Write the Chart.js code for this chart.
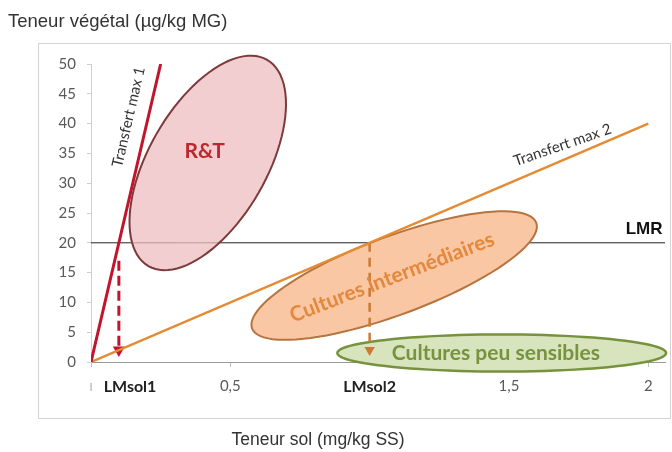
<!DOCTYPE html>
<html>
<head>
<meta charset="utf-8">
<script src="https://cdn.jsdelivr.net/npm/chart.js@4.4.0/dist/chart.umd.min.js"></script>
<style>
  html, body { margin: 0; padding: 0; background: #fff; }
  #wrap { width: 672px; height: 452px; position: relative; }
</style>
</head>
<body>
<div id="wrap"><canvas id="graphique"></canvas></div>
<script>
// axes
const xTicks = [0, 0.14, 0.5, 1, 1.5, 2];
const xTickLabels = ['ı', 'LMsol1', '0,5', 'LMsol2', '1,5', '2'];
const yTicks = [0, 5, 10, 15, 20, 25, 30, 35, 40, 45, 50];

// droites de transfert et LMR
const transfert1 = [{ x: 0, y: 0 }, { x: 0.25, y: 50 }];
const transfert2 = [{ x: 0, y: 0 }, { x: 2, y: 40 }];
const lmr = [{ x: 0, y: 20 }, { x: 2.06, y: 20 }];
const flecheLMsol1 = [{ x: 0.1, y: 17 }, { x: 0.1, y: 2 }];
const flecheLMsol2 = [{ x: 1, y: 20 }, { x: 1, y: 2 }];

// zones (ellipses) : centre et demi-axes, en unités des axes
const zoneNoms = ['R&T', 'Cultures intermédiaires', 'Cultures peu sensibles'];
const zoneCentres = [[0.419, 33.4], [1.088, 14.5], [1.474, 1.51]];
const zoneAxe1 = [[0.213, 17.3], [0.510, 8.86], [0.590, 0]];
const zoneAxe2 = [[0.183, -4.96], [0.0484, -6.15], [0, 3.11]];

const styleZones = [
  { fill: 'rgba(238,190,192,0.75)', stroke: '#7d3a3a', width: 2 },
  { fill: '#f9c7a4', stroke: '#b8743e', width: 2 },
  { fill: '#d8e4bd', stroke: '#76923c', width: 2.5 }
];

// textes posés dans le repère des données
const etiquettes = [
  { t: 'R&T', x: 0.408, y: 35.4, rot: 0, font: 'bold 21px Lato', color: '#c0262d' },
  { t: 'Cultures intermédiaires', x: 1.08, y: 14.2, rot: -21, font: 'bold 21px Lato', color: '#e3883c' },
  { t: 'Cultures peu sensibles', x: 1.453, y: 1.4, rot: 0, font: 'bold 21px Lato', color: '#77933c' },
  { t: 'Transfert max 1', x: 0.135, y: 41.1, rot: -77, font: '15px Lato', color: '#333' },
  { t: 'Transfert max 2', x: 1.692, y: 36.4, rot: -19, font: '15px Lato', color: '#333' },
  { t: 'LMR', x: 1.985, y: 22.3, rot: 0, font: 'bold 17px "Liberation Sans"', color: '#111' }
];

function dessineZones(chart) {
  const ctx = chart.ctx;
  const xs = chart.scales.x, ys = chart.scales.y;
  for (let i = 0; i < zoneNoms.length; i++) {
    const c = zoneCentres[i], a = zoneAxe1[i], b = zoneAxe2[i];
    ctx.save();
    ctx.beginPath();
    for (let k = 0; k <= 96; k++) {
      const t = k / 96 * Math.PI * 2;
      const px = xs.getPixelForValue(c[0] + a[0] * Math.cos(t) + b[0] * Math.sin(t));
      const py = ys.getPixelForValue(c[1] + a[1] * Math.cos(t) + b[1] * Math.sin(t));
      if (k === 0) ctx.moveTo(px, py); else ctx.lineTo(px, py);
    }
    ctx.closePath();
    ctx.fillStyle = styleZones[i].fill;
    ctx.fill();
    ctx.lineWidth = styleZones[i].width;
    ctx.strokeStyle = styleZones[i].stroke;
    ctx.stroke();
    ctx.restore();
  }
}

const decor = {
  id: 'decor',
  beforeDraw(chart) {
    const ctx = chart.ctx;
    ctx.save();
    ctx.strokeStyle = '#d4d4d4';
    ctx.lineWidth = 1;
    ctx.strokeRect(38.5, 43.5, 632, 375);
    ctx.fillStyle = '#333';
    ctx.textBaseline = 'middle';
    ctx.textAlign = 'left';
    ctx.font = '18.5px "Liberation Sans"';
    ctx.fillText('Teneur végétal (µg/kg MG)', 8, 22);
    ctx.textAlign = 'center';
    ctx.font = '17.5px "Liberation Sans"';
    ctx.fillText('Teneur sol (mg/kg SS)', 318, 440);
    ctx.restore();
  },
  afterDatasetDraw(chart, args) {
    if (args.index === 2) dessineZones(chart);
  },
  afterDatasetsDraw(chart) {
    const ctx = chart.ctx;
    const xs = chart.scales.x, ys = chart.scales.y;
    etiquettes.forEach(e => {
      ctx.save();
      ctx.translate(xs.getPixelForValue(e.x), ys.getPixelForValue(e.y));
      ctx.rotate(e.rot * Math.PI / 180);
      ctx.font = e.font;
      ctx.fillStyle = e.color;
      ctx.textAlign = 'center';
      ctx.textBaseline = 'middle';
      ctx.fillText(e.t, 0, 0);
      ctx.restore();
    });
  }
};

const ctx = document.getElementById('graphique').getContext('2d');
new Chart(ctx, {
  type: 'scatter',
  data: {
    datasets: [
      { data: transfert1, showLine: true, borderColor: '#c0152c', borderWidth: 3, pointRadius: 0, order: 1 },
      { data: transfert2, showLine: true, borderColor: '#e48b33', borderWidth: 2.5, pointRadius: 0, order: 1 },
      { data: lmr, showLine: true, borderColor: '#222', borderWidth: 1, pointRadius: 0, order: 10 },
      {
        data: flecheLMsol1, showLine: true, borderColor: '#c0152c', borderWidth: 3, borderDash: [10, 5],
        pointRadius: [0, 7], pointStyle: 'triangle', rotation: 180,
        pointBackgroundColor: '#c0152c', pointBorderWidth: 0, order: 1
      },
      {
        data: flecheLMsol2, showLine: true, borderColor: '#c97a35', borderWidth: 2.5, borderDash: [9, 6],
        pointRadius: [0, 6], pointStyle: 'triangle', rotation: 180,
        pointBackgroundColor: '#c97a35', pointBorderWidth: 0, order: 1
      }
    ]
  },
  options: {
    responsive: true,
    maintainAspectRatio: false,
    animation: false,
    layout: { padding: { left: 41, top: 64, right: 5, bottom: 30 } },
    plugins: { legend: { display: false }, tooltip: { enabled: false } },
    scales: {
      x: {
        type: 'linear', min: 0, max: 2.06,
        afterBuildTicks: s => { s.ticks = xTicks.map(v => ({ value: v })); },
        afterFit: s => { s.height = 60; },
        border: { color: '#9a9a9a', width: 1 },
        grid: {
          drawOnChartArea: false, tickLength: 5,
          color: c => (c.index === 1 || c.index === 3 ? 'rgba(0,0,0,0)' : '#bfbfbf')
        },
        ticks: {
          padding: 10, autoSkip: false, maxRotation: 0,
          callback: (v, i) => xTickLabels[i],
          color: c => (c.index === 1 || c.index === 3 ? '#222' : (c.index === 0 ? '#bbb' : '#595959')),
          font: c => (c.index === 1 || c.index === 3
            ? { family: 'Lato', size: 16, weight: 'bold' }
            : { family: 'Lato', size: 15 })
        }
      },
      y: {
        min: 0, max: 50,
        afterBuildTicks: s => { s.ticks = yTicks.map(v => ({ value: v })); },
        afterFit: s => { s.width = 50; },
        border: { color: '#d0d0d0', width: 1 },
        grid: { drawOnChartArea: false, tickLength: 4, color: '#cfcfcf' },
        ticks: { padding: 11, color: '#595959', font: { family: 'Lato', size: 15 } }
      }
    }
  },
  plugins: [decor]
});
</script>
</body>
</html>
